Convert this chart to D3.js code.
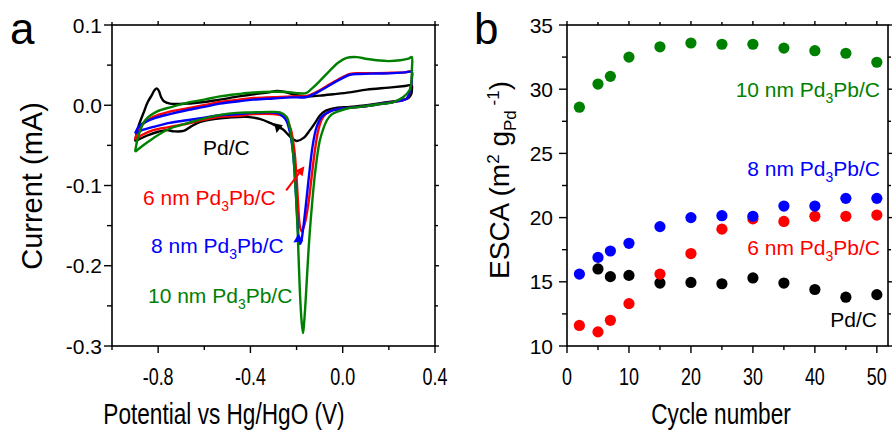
<!DOCTYPE html>
<html>
<head>
<meta charset="utf-8">
<script src="https://cdn.jsdelivr.net/npm/d3@7"></script>
<style>
  body { margin: 0; background: #fff; }
  text { font-family: "Liberation Sans", Arial, sans-serif; }
</style>
</head>
<body>
<svg id="chart" width="892" height="432"></svg>
<script>
// ---- Panel a: cyclic voltammograms, [potential (V), current (mA)] ----
const cvPdC = [
  [-0.90,-0.045],[-0.886,-0.027],[-0.864,-0.010],[-0.845,0.004],[-0.828,0.0124],[-0.815,0.019],
  [-0.806,0.021],[-0.797,0.018],[-0.787,0.010],[-0.775,0.005],[-0.749,0.002],[-0.676,0.002],
  [-0.60,0.004],[-0.532,0.007],[-0.45,0.011],[-0.387,0.0137],[-0.32,0.016],[-0.286,0.0178],
  [-0.25,0.0165],[-0.20,0.0125],[-0.156,0.011],[-0.10,0.012],[-0.041,0.0137],[0.03,0.016],
  [0.104,0.0195],[0.20,0.022],[0.27,0.024],[0.299,0.025],[0.300,0.020],[0.298,0.0145],
  [0.285,0.009],[0.248,0.006],[0.17,0.003],[0.104,0.0],[0.03,-0.002],[-0.041,-0.004],
  [-0.075,-0.007],[-0.098,-0.0124],[-0.12,-0.022],[-0.142,-0.031],[-0.171,-0.041],[-0.20,-0.0445],
  [-0.228,-0.039],[-0.26,-0.030],[-0.315,-0.022],[-0.36,-0.017],[-0.416,-0.0145],[-0.48,-0.015],
  [-0.55,-0.017],[-0.62,-0.021],[-0.66,-0.027],[-0.69,-0.032],[-0.73,-0.0325],[-0.763,-0.031],
  [-0.80,-0.033],[-0.85,-0.038],[-0.90,-0.045]
];
const cv6nm = [
  [-0.90,-0.043],[-0.88,-0.028],[-0.821,-0.0145],[-0.75,-0.008],[-0.676,-0.004],[-0.60,0.000],
  [-0.532,0.004],[-0.45,0.007],[-0.387,0.009],[-0.30,0.010],[-0.22,0.011],[-0.156,0.0115],
  [-0.11,0.017],[-0.069,0.024],[-0.02,0.032],[0.032,0.039],[0.075,0.040],[0.15,0.040],
  [0.22,0.0405],[0.27,0.041],[0.299,0.042],[0.300,0.035],[0.298,0.027],[0.29,0.016],
  [0.277,0.0083],[0.219,0.004],[0.15,0.001],[0.075,-0.002],[0.00,-0.004],[-0.041,-0.006],
  [-0.07,-0.010],[-0.088,-0.016],[-0.105,-0.030],[-0.12,-0.055],[-0.135,-0.09],[-0.150,-0.125],
  [-0.165,-0.148],[-0.178,-0.157],[-0.186,-0.150],[-0.193,-0.125],[-0.20,-0.09],[-0.21,-0.055],
  [-0.225,-0.030],[-0.243,-0.018],[-0.26,-0.013],[-0.30,-0.011],[-0.387,-0.011],[-0.45,-0.013],
  [-0.532,-0.0145],[-0.60,-0.018],[-0.676,-0.023],[-0.75,-0.027],[-0.821,-0.031],[-0.87,-0.037],
  [-0.90,-0.043]
];
const cv8nm = [
  [-0.90,-0.035],[-0.879,-0.025],[-0.821,-0.0166],[-0.75,-0.011],[-0.676,-0.0062],[-0.60,-0.002],
  [-0.532,0.002],[-0.45,0.005],[-0.387,0.007],[-0.30,0.0085],[-0.22,0.0098],[-0.156,0.0103],
  [-0.11,0.016],[-0.069,0.0228],[-0.02,0.031],[0.032,0.038],[0.075,0.039],[0.15,0.0395],
  [0.22,0.040],[0.27,0.041],[0.299,0.0415],[0.300,0.035],[0.298,0.027],[0.29,0.016],
  [0.277,0.0083],[0.219,0.004],[0.15,0.001],[0.075,-0.002],[0.00,-0.004],[-0.041,-0.006],
  [-0.07,-0.010],[-0.091,-0.0145],[-0.113,-0.027],[-0.13,-0.05],[-0.145,-0.085],[-0.160,-0.125],
  [-0.172,-0.155],[-0.180,-0.170],[-0.185,-0.173],[-0.190,-0.168],[-0.197,-0.14],[-0.205,-0.10],
  [-0.215,-0.06],[-0.228,-0.035],[-0.243,-0.020],[-0.257,-0.0145],[-0.286,-0.0095],[-0.387,-0.0095],
  [-0.45,-0.011],[-0.532,-0.0124],[-0.60,-0.0155],[-0.676,-0.0187],[-0.75,-0.022],[-0.821,-0.027],
  [-0.87,-0.031],[-0.90,-0.035]
];
const cv10nm = [
  [-0.90,-0.058],[-0.886,-0.039],[-0.857,-0.019],[-0.806,-0.008],[-0.74,-0.002],[-0.676,0.003],
  [-0.60,0.007],[-0.532,0.011],[-0.45,0.014],[-0.387,0.0158],[-0.30,0.0168],[-0.243,0.0166],
  [-0.19,0.0150],[-0.16,0.0150],[-0.134,0.0207],[-0.10,0.030],[-0.06,0.042],[-0.02,0.053],
  [0.017,0.059],[0.06,0.060],[0.10,0.058],[0.147,0.056],[0.20,0.055],[0.25,0.056],
  [0.285,0.058],[0.299,0.060],[0.300,0.045],[0.298,0.030],[0.29,0.019],[0.263,0.0103],
  [0.219,0.004],[0.15,0.001],[0.075,-0.002],[0.02,-0.004],[-0.026,-0.0083],[-0.05,-0.012],
  [-0.069,-0.019],[-0.085,-0.030],[-0.10,-0.045],[-0.118,-0.08],[-0.135,-0.13],[-0.148,-0.18],
  [-0.160,-0.24],[-0.167,-0.27],[-0.172,-0.284],[-0.178,-0.27],[-0.186,-0.23],[-0.195,-0.16],
  [-0.205,-0.10],[-0.215,-0.06],[-0.228,-0.03],[-0.243,-0.0145],[-0.272,-0.009],[-0.315,-0.0083],
  [-0.40,-0.009],[-0.459,-0.0095],[-0.53,-0.012],[-0.604,-0.0166],[-0.68,-0.023],[-0.749,-0.029],
  [-0.821,-0.041],[-0.870,-0.051],[-0.90,-0.058]
];

// ---- Panel b: ESCA vs cycle number ----
const cycles      = [2, 5, 7, 10, 15, 20, 25, 30, 35, 40, 45, 50];
const escaPdC     = [null, 16.0, 15.4, 15.5, 14.9, 14.95, 14.85, 15.3, 14.9, 14.4, 13.8, 14.0];
const esca6nm     = [11.6, 11.1, 12.0, 13.3, 15.6, 17.2, 19.1, 19.9, 19.7, 20.1, 20.1, 20.2];
const esca8nm     = [15.6, 16.9, 17.4, 18.0, 19.3, 20.0, 20.15, 20.1, 20.9, 20.9, 21.5, 21.5];
const esca10nm    = [28.6, 30.4, 31.0, 32.5, 33.3, 33.6, 33.5, 33.5, 33.2, 33.0, 32.8, 32.1];

// Tick values
const ticksPotential = [-0.8, -0.4, 0.0, 0.4];
const ticksCurrent   = [0.1, 0.0, -0.1, -0.2, -0.3];
const ticksCycle     = [0, 10, 20, 30, 40, 50];
const ticksEsca      = [35, 30, 25, 20, 15, 10];

const colors = { pdc: "#000000", n6: "#ff0000", n8: "#0000ff", n10: "#008000" };

const svg = d3.select("#chart");
const NARROW = 0.78;   // condensed face used for the horizontal axis numbers and titles
const fmt1 = v => v.toFixed(1);   // plain hyphen minus, e.g. "-0.4"

// ---- scales ----
const xA = d3.scaleLinear().domain([-1.0, 0.4]).range([112, 435]);
const yA = d3.scaleLinear().domain([-0.3, 0.1]).range([346, 25]);
const xB = d3.scaleLinear().domain([0, 51.8]).range([567, 888]);
const yB = d3.scaleLinear().domain([10, 35]).range([346, 25]);

// helper: text squeezed along its baseline
function squeezedText(g, x, y, str, size, anchor, rotate, sx) {
  const t = g.append("g")
    .attr("transform", `translate(${x},${y})` + (rotate ? ` rotate(${rotate})` : "") + ` scale(${sx == null ? NARROW : sx},1)`)
    .append("text")
    .attr("font-size", size)
    .attr("text-anchor", anchor || "middle");
  if (str) t.text(str);
  return t;
}

function frame(g, x, y) {
  const [x0, x1] = x.range(), [y1, y0] = y.range();
  g.append("rect").attr("x", x0).attr("y", y0).attr("width", x1 - x0).attr("height", y1 - y0)
    .attr("fill", "none").attr("stroke", "#000").attr("stroke-width", 1.6);
}

function ticks(g, x, y, xMaj, xMin, yMaj, yMin) {
  const [x0, x1] = x.range(), [y1, y0] = y.range();
  const tk = g.append("g").attr("stroke", "#000").attr("stroke-width", 1.4);
  xMaj.forEach(v => {
    tk.append("line").attr("x1", x(v)).attr("x2", x(v)).attr("y1", y1).attr("y2", y1 + 7);
    tk.append("line").attr("x1", x(v)).attr("x2", x(v)).attr("y1", y0).attr("y2", y0 - 4);
  });
  xMin.forEach(v => {
    tk.append("line").attr("x1", x(v)).attr("x2", x(v)).attr("y1", y1).attr("y2", y1 + 4);
    tk.append("line").attr("x1", x(v)).attr("x2", x(v)).attr("y1", y0).attr("y2", y0 - 3);
  });
  yMaj.forEach(v => {
    tk.append("line").attr("y1", y(v)).attr("y2", y(v)).attr("x1", x0).attr("x2", x0 - 8);
    tk.append("line").attr("y1", y(v)).attr("y2", y(v)).attr("x1", x1).attr("x2", x1 + 4);
  });
  yMin.forEach(v => {
    tk.append("line").attr("y1", y(v)).attr("y2", y(v)).attr("x1", x0).attr("x2", x0 - 5);
    tk.append("line").attr("y1", y(v)).attr("y2", y(v)).attr("x1", x1).attr("x2", x1 + 3);
  });
}

function arrow(g, from, to, color, x, y, stem) {
  const x1 = x(from[0]), y1 = y(from[1]), x2 = x(to[0]), y2 = y(to[1]);
  const ang = Math.atan2(y2 - y1, x2 - x1);
  const L = 9, W = 4.5;
  const bx = x2 - L * Math.cos(ang), by = y2 - L * Math.sin(ang);
  if (stem) g.append("line").attr("x1", x1).attr("y1", y1).attr("x2", bx).attr("y2", by)
    .attr("stroke", color).attr("stroke-width", 2);
  g.append("path")
    .attr("d", `M${x2},${y2}L${bx - W * Math.sin(ang)},${by + W * Math.cos(ang)}L${bx + W * Math.sin(ang)},${by - W * Math.cos(ang)}Z`)
    .attr("fill", color);
}

function pdLabel(g, x, y, prefix, color, anchor) {
  const t = g.append("text").attr("x", x).attr("y", y).attr("font-size", 21)
    .attr("fill", color).attr("text-anchor", anchor || "start");
  t.append("tspan").text(prefix + "Pd");
  t.append("tspan").attr("font-size", 14).attr("dy", 6).text("3");
  t.append("tspan").attr("dy", -6).text("Pb/C");
  return t;
}

// ================= Panel a =================
const gA = svg.append("g");
const line = d3.line().x(d => xA(d[0])).y(d => yA(d[1])).curve(d3.curveCatmullRom.alpha(0.5));
[[cvPdC, colors.pdc], [cv6nm, colors.n6], [cv8nm, colors.n8], [cv10nm, colors.n10]].forEach(([d, c]) => {
  gA.append("path").attr("d", line(d)).attr("fill", "none").attr("stroke", c)
    .attr("stroke-width", 2.4).attr("stroke-linejoin", "round");
});
frame(gA, xA, yA);
ticks(gA, xA, yA, ticksPotential, [-1.0, -0.6, -0.2, 0.2], ticksCurrent, [0.05, -0.05, -0.15, -0.25]);

ticksCurrent.forEach(v => {
  gA.append("text").attr("x", 102).attr("y", yA(v) + 7.5).attr("font-size", 21)
    .attr("text-anchor", "end").text(fmt1(v));
});
ticksPotential.forEach(v => squeezedText(gA, xA(v), 385, fmt1(v), 23));
squeezedText(gA, 224, 424, "Potential vs Hg/HgO (V)", 29);
squeezedText(gA, 42, 186, "Current (mA)", 29, "middle", -90, 1);
gA.append("text").attr("x", 10).attr("y", 44).attr("font-size", 44).text("a");

// curve labels and pointers
gA.append("text").attr("x", 203).attr("y", 155).attr("font-size", 21).text("Pd/C");
arrow(gA, [-0.26, 0.0], [-0.287, -0.0345], colors.pdc, xA, yA, false);
pdLabel(gA, 143, 205, "6 nm ", colors.n6);
arrow(gA, [-0.245, -0.106], [-0.166, -0.076], colors.n6, xA, yA, true);
pdLabel(gA, 151, 253, "8 nm ", colors.n8);
arrow(gA, [-0.172, -0.163], [-0.214, -0.171], colors.n8, xA, yA, false);
pdLabel(gA, 148, 303, "10 nm ", colors.n10);

// ================= Panel b =================
const gB = svg.append("g");
frame(gB, xB, yB);
ticks(gB, xB, yB, ticksCycle, [5, 15, 25, 35, 45], ticksEsca, [32.5, 27.5, 22.5, 17.5, 12.5]);
[[escaPdC, colors.pdc], [esca6nm, colors.n6], [esca8nm, colors.n8], [esca10nm, colors.n10]].forEach(([vals, c]) => {
  gB.append("g").selectAll("circle")
    .data(cycles.map((cy, i) => [cy, vals[i]]).filter(d => d[1] != null))
    .join("circle")
    .attr("cx", d => xB(d[0])).attr("cy", d => yB(d[1])).attr("r", 5.6).attr("fill", c);
});
ticksEsca.forEach(v => {
  gB.append("text").attr("x", 553).attr("y", yB(v) + 7.5).attr("font-size", 21)
    .attr("text-anchor", "end").text(v);
});
ticksCycle.forEach(v => squeezedText(gB, xB(v), 385, String(v), 23));
squeezedText(gB, 721, 424, "Cycle number", 29);
{
  const t = squeezedText(gB, 509, 180, null, 28, "middle", -90, 1);
  t.append("tspan").text("ESCA (m");
  t.append("tspan").attr("font-size", 17).attr("dy", -10).text("2");
  t.append("tspan").attr("dy", 10).text(" g");
  t.append("tspan").attr("font-size", 17).attr("dy", 7).text("Pd");
  t.append("tspan").attr("font-size", 17).attr("dy", -17).text(" -1");
  t.append("tspan").attr("dy", 10).text(")");
}
gB.append("text").attr("x", 474).attr("y", 44).attr("font-size", 44).text("b");

pdLabel(gB, 880, 97, "10 nm ", colors.n10, "end");
pdLabel(gB, 880, 176, "8 nm ", colors.n8, "end");
pdLabel(gB, 880, 255, "6 nm ", colors.n6, "end");
gB.append("text").attr("x", 877).attr("y", 327).attr("font-size", 21).attr("text-anchor", "end").text("Pd/C");
</script>
</body>
</html>
